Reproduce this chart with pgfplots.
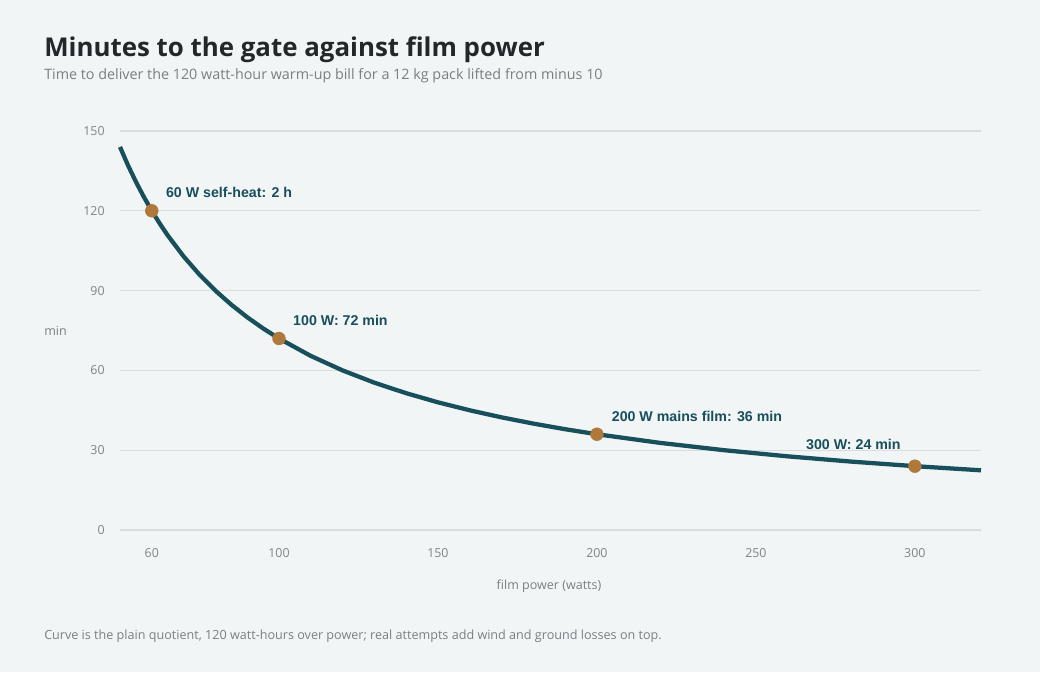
\documentclass[border=0pt]{standalone}
\usepackage{fontspec}
\setmainfont{Open Sans}
\newfontfamily\annfont{Liberation Sans}
\usepackage{pgfplots}
\pgfplotsset{compat=1.18}
\definecolor{bg}{HTML}{F2F5F6}
\definecolor{titlec}{HTML}{23272A}
\definecolor{subc}{HTML}{7A7F83}
\definecolor{tickc}{HTML}{7F8487}
\definecolor{gridc}{HTML}{D8DDE0}
\definecolor{linec}{HTML}{174F5A}
\definecolor{markc}{HTML}{B0783A}
\begin{document}
\begin{tikzpicture}[x=0.75pt,y=0.75pt]
\fill[bg] (0,0) rectangle (1040,672);
\node[inner sep=0pt,anchor=base west,text=titlec,font=\fontsize{19.4}{24}\selectfont\bfseries] at (44,615) {Minutes to the gate against film power};
\node[inner sep=0pt,anchor=base west,text=subc,font=\fontsize{10.75}{13}\selectfont] at (44,592) {Time to deliver the 120 watt-hour warm-up bill for a 12 kg pack lifted from minus 10};
\node[inner sep=0pt,anchor=base west,text=subc,font=\fontsize{9.45}{11}\selectfont] at (44,32) {Curve is the plain quotient, 120 watt-hours over power; real attempts add wind and ground losses on top.};
\node[inner sep=0pt,anchor=base,text=subc,font=\fontsize{9.4}{11}\selectfont] at (549,82) {film power (watts)};
\node[inner sep=0pt,anchor=west,text=subc,font=\fontsize{9.4}{11}\selectfont] at (44,341) {min};
\begin{axis}[
  at={(90pt,106.5pt)}, anchor=south west,
  scale only axis, width=645.75pt, height=299.25pt,
  xmin=50, xmax=320.8, ymin=0, ymax=150,
  axis line style={draw=none},
  xtick={60,100,150,200,250,300},
  ytick={0,30,60,90,120,150},
  major tick length=0pt,
  ymajorgrids, grid style={gridc, line width=0.8pt},
  tick label style={text=tickc, font=\fontsize{9.3}{11}\selectfont},
  /pgf/number format/assume math mode=true,
  xticklabel style={yshift=-10pt},
  yticklabel style={xshift=-8pt},
  clip=false,
]
\addplot[linec, line width=3.2pt, line join=round] coordinates {
(50,144) (52.5,137.14) (55,130.91) (57.5,125.22) (60,120) (62.5,115.2) (65,110.77) (70,102.86) (75,96) (80,90) (85,84.71) (90,80) (95,75.79) (100,72)
(110,65.45) (120,60) (130,55.38) (140,51.43) (150,48) (160,45) (170,42.35) (180,40) (190,37.89) (200,36)
(220,32.73) (240,30) (260,27.69) (280,25.71) (300,24) (320.8,22.44)
};
\addplot[only marks, mark=*, mark size=4.8pt, markc, mark options={draw=markc,fill=markc}] coordinates {
(60,120) (100,72) (200,36) (300,24)
};
\node[inner sep=0pt, anchor=west, text=linec, font=\annfont\fontsize{10.65}{12}\selectfont\bfseries, xshift=10.5pt, yshift=13.5pt] at (axis cs:60,120) {60 W self-heat: 2 h};
\node[inner sep=0pt, anchor=west, text=linec, font=\annfont\fontsize{10.65}{12}\selectfont\bfseries, xshift=10.5pt, yshift=13.5pt] at (axis cs:100,72) {100 W: 72 min};
\node[inner sep=0pt, anchor=west, text=linec, font=\annfont\fontsize{10.65}{12}\selectfont\bfseries, xshift=11pt, yshift=13.5pt] at (axis cs:200,36) {200 W mains film: 36 min};
\node[inner sep=0pt, anchor=east, text=linec, font=\annfont\fontsize{10.65}{12}\selectfont\bfseries, xshift=-10.5pt, yshift=16.5pt] at (axis cs:300,24) {300 W: 24 min};
\end{axis}
\end{tikzpicture}
\end{document}
